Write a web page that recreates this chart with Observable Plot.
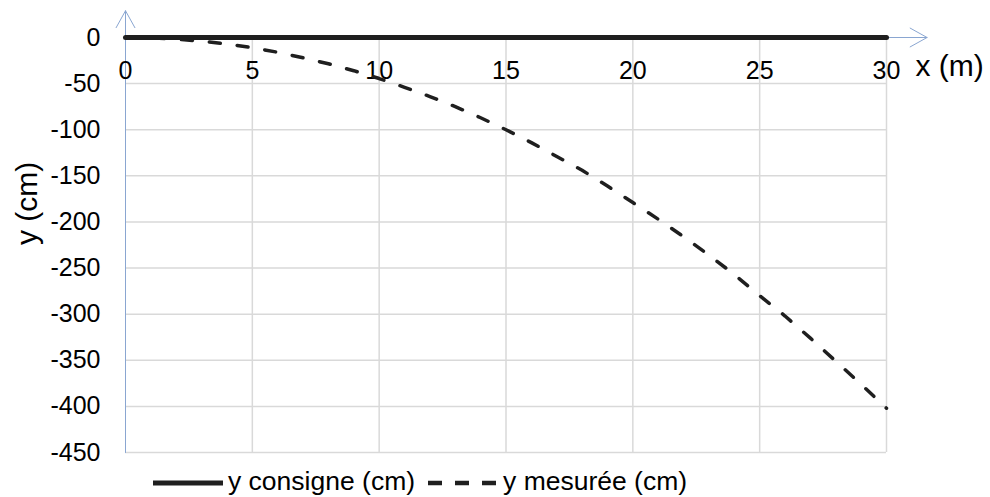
<!DOCTYPE html>
<html>
<head>
<meta charset="utf-8">
<script src="https://cdn.jsdelivr.net/npm/d3@7"></script>
<script src="https://cdn.jsdelivr.net/npm/@observablehq/plot@0.6"></script>
<style>
  body { margin: 0; background: #fff; font-family: "Liberation Sans", Arial, sans-serif; }
  #chart { width: 990px; height: 460px; }
  #legend { height: 46px; display: flex; align-items: center; padding-left: 153px; font-size: 26.5px; color: #000; }
  #legend .item { display: flex; align-items: center; }
  #legend .lbl { position: relative; top: -2px; white-space: nowrap; }
</style>
</head>
<body>
<div id="chart"></div>
<div id="legend"></div>
<script>
// ---- data ----
const xValues   = [0,1,2,3,4,5,6,7,8,9,10,11,12,13,14,15,16,17,18,19,20,21,22,23,24,25,26,27,28,29,30];
const yConsigne = [0,0,0,0,0,0,0,0,0,0,0,0,0,0,0,0,0,0,0,0,0,0,0,0,0,0,0,0,0,0,0];
const yMesuree  = [0,-0.5,-1.8,-4,-7,-11,-16,-22,-28.5,-36,-44.5,-54,-64,-75,-87,-100,-114,-129,-144,-161,-179,-197,-216,-236,-257,-280,-302,-326,-351,-376,-402];
const seriesNames = ["y consigne (cm)", "y mesurée (cm)"];
const xTicks = [0,5,10,15,20,25,30];
const xTickLabels = ["0","5","10","15","20","25","30"];
const yTicks = [0,-50,-100,-150,-200,-250,-300,-350,-400,-450];
const yTickLabels = ["0","-50","-100","-150","-200","-250","-300","-350","-400","-450"];
const xTitle = "x (m)";
const yTitle = "y (cm)";
const xAxisEnd = 31.6;   // arrow tip of the x axis (m)
const yAxisEnd = 29;     // arrow tip of the y axis (cm)

const consigne = xValues.map((x, i) => ({x, y: yConsigne[i]}));
const mesuree  = xValues.map((x, i) => ({x, y: yMesuree[i]}));
const axisLines = [
  {x1: 0, y1: yTicks[yTicks.length - 1], x2: 0, y2: yAxisEnd},
  {x1: 0, y1: 0, x2: xAxisEnd, y2: 0}
];

const ink = "#1f1f1f";
const font = '"Liberation Sans", Arial, sans-serif';

const plot = Plot.plot({
  width: 990,
  height: 460,
  marginLeft: 125,
  marginRight: 104,
  marginTop: 37,
  marginBottom: 8,
  x: {domain: [0, 30], axis: null},
  y: {domain: [-450, 0]},
  style: {fontFamily: font, background: "#fff", color: "#000", overflow: "visible"},
  marks: [
    Plot.gridX(xTicks.slice(1), {stroke: "#d9d9d9", strokeOpacity: 1, strokeWidth: 1.5}),
    Plot.gridY(yTicks.slice(1), {stroke: "#d9d9d9", strokeOpacity: 1, strokeWidth: 1.5}),
    Plot.arrow(axisLines, {x1: "x1", y1: "y1", x2: "x2", y2: "y2", stroke: "#8aa6d1", strokeWidth: 1, headLength: 29, headAngle: 58}),
    Plot.axisY({ticks: yTicks, tickSize: 0, tickPadding: 25, fontSize: 25, fill: "#000",
      tickFormat: d => yTickLabels[yTicks.indexOf(d)]}),
    Plot.text(xTicks, {x: d => d, y: () => 0, text: d => xTickLabels[xTicks.indexOf(d)],
      dy: 41, lineAnchor: "bottom", fontSize: 25, fill: "#000"}),
    Plot.text([yTitle], {frameAnchor: "left", text: d => d, rotate: -90, dx: -88.5,
      lineAnchor: "bottom", fontSize: 30, fill: "#000"}),
    Plot.text([xTitle], {frameAnchor: "top-right", text: d => d, dx: 29, dy: 38,
      textAnchor: "start", lineAnchor: "bottom", fontSize: 30, fill: "#000"}),
    Plot.line(mesuree, {x: "x", y: "y", stroke: ink, strokeWidth: 3.5, strokeDasharray: "11,17", strokeLinecap: "round"}),
    Plot.line(consigne, {x: "x", y: "y", stroke: ink, strokeWidth: 5})
  ]
});
document.getElementById("chart").appendChild(plot);

// legend
const legend = d3.select("#legend");
const styles = [
  {w: 70, dash: null, sw: 5, gapBefore: 0, gapAfter: 5},
  {w: 72, dash: "14,13", sw: 4.5, gapBefore: 13, gapAfter: 3}
];
seriesNames.forEach((name, i) => {
  const s = styles[i];
  const item = legend.append("div").attr("class", "item").style("margin-left", s.gapBefore + "px");
  const sv = item.append("svg").attr("width", s.w).attr("height", 10);
  sv.append("line").attr("x1", 0).attr("x2", s.w).attr("y1", 5).attr("y2", 5)
    .attr("stroke", ink).attr("stroke-width", s.sw).attr("stroke-dasharray", s.dash);
  item.append("span").attr("class", "lbl").style("margin-left", s.gapAfter + "px").text(name);
});
</script>
</body>
</html>
